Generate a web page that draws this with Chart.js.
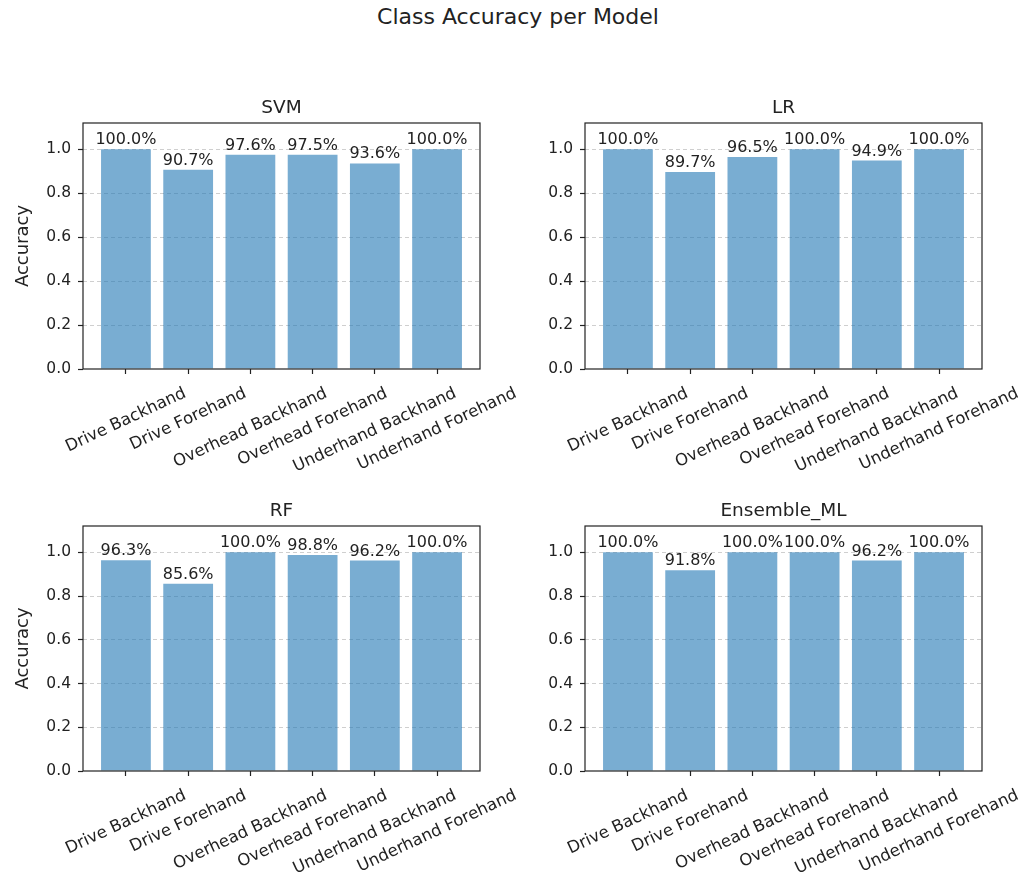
<!DOCTYPE html>
<html>
<head>
<meta charset="utf-8">
<title>Class Accuracy per Model</title>
<script src="https://cdn.jsdelivr.net/npm/chart.js@4/dist/chart.umd.min.js"></script>
<style>
  html, body { margin: 0; padding: 0; background: #fff; }
  #fig { position: relative; width: 1020px; height: 875px; overflow: hidden; background: #fff; }
  #fig canvas { position: absolute; }
  #suptitle { position: absolute; left: 0; width: 1036px; top: 4px; line-height: 26px;
              text-align: center; font-family: "DejaVu Sans"; font-size: 22px; color: #222; }
</style>
</head>
<body>
<div id="fig">
  <div id="suptitle">Class Accuracy per Model</div>
  <canvas id="p0" width="530" height="396" style="left:0px;top:83px"></canvas>
  <canvas id="p1" width="530" height="396" style="left:502px;top:83px"></canvas>
  <canvas id="p2" width="530" height="395" style="left:0px;top:486px"></canvas>
  <canvas id="p3" width="530" height="395" style="left:502px;top:486px"></canvas>
</div>
<script>
// Stroke classes on the x axis
const categories = ['Drive Backhand', 'Drive Forehand', 'Overhead Backhand',
                    'Overhead Forehand', 'Underhand Backhand', 'Underhand Forehand'];

// Per-class accuracy for each model
const svmAccuracy      = [1.000, 0.907, 0.976, 0.975, 0.936, 1.000];
const lrAccuracy       = [1.000, 0.897, 0.965, 1.000, 0.949, 1.000];
const rfAccuracy       = [0.963, 0.856, 1.000, 0.988, 0.962, 1.000];
const ensembleAccuracy = [1.000, 0.918, 1.000, 1.000, 0.962, 1.000];

const modelNames = ['SVM', 'LR', 'RF', 'Ensemble_ML'];
const yTicks = [0.0, 0.2, 0.4, 0.6, 0.8, 1.0];

const FONT = 'DejaVu Sans';
const INK = '#222';

// Draws the value labels, the full axes frame, the panel title and the rotated class names
const panelDecor = {
  id: 'panelDecor',
  afterDatasetsDraw(chart, args, opts) {
    const { ctx, chartArea: a } = chart;
    const meta = chart.getDatasetMeta(0);
    const ds = chart.data.datasets[0];
    ctx.save();
    ctx.fillStyle = INK;
    ctx.textAlign = 'center';
    ctx.textBaseline = 'alphabetic';

    ctx.font = '16px "' + FONT + '"';
    meta.data.forEach((bar, i) => {
      const v = ds.data[i].y;
      ctx.fillText((v * 100).toFixed(1) + '%', bar.x, bar.y - 5);
    });

    ctx.strokeStyle = INK;
    ctx.lineWidth = 1.2;
    ctx.strokeRect(a.left, a.top, a.right - a.left, a.bottom - a.top);

    ctx.font = '18.5px "' + FONT + '"';
    ctx.fillText(opts.title, (a.left + a.right) / 2, a.top - 10);

    const xs = chart.scales.x;
    const rot = 25 * Math.PI / 180;
    const fs = 16.5;
    ctx.font = fs + 'px "' + FONT + '"';
    ctx.textBaseline = 'middle';
    categories.forEach((lab, i) => {
      const x = xs.getPixelForValue(i);
      const L = ctx.measureText(lab).width;
      const h = fs * 1.15;
      const H = L * Math.sin(rot) + h * Math.cos(rot);
      ctx.save();
      ctx.translate(x, a.bottom + 15 + H / 2);
      ctx.rotate(-rot);
      ctx.fillText(lab, 0, 0);
      ctx.restore();
    });
    ctx.restore();
  }
};

function makePanel(canvasId, title, values, showYLabel) {
  const canvas = document.getElementById(canvasId);
  const areaHeight = canvas.height === 396 ? 246 : 245;
  new Chart(canvas, {
    type: 'bar',
    data: {
      datasets: [{
        data: values.map((v, i) => ({ x: i, y: v })),
        backgroundColor: 'rgba(31,119,180,0.6)',
        borderWidth: 0,
        barPercentage: 0.8,
        categoryPercentage: 1.0
      }]
    },
    options: {
      responsive: false,
      animation: false,
      layout: { padding: { top: 40, left: 0, right: 50, bottom: 0 } },
      plugins: {
        legend: { display: false },
        tooltip: { enabled: false },
        panelDecor: { title: title }
      },
      scales: {
        x: {
          type: 'linear',
          min: -0.69,
          max: 5.69,
          offset: false,
          afterBuildTicks: s => { s.ticks = categories.map((_, i) => ({ value: i })); },
          afterFit: s => { s.height = canvas.height - 40 - areaHeight; },
          ticks: { display: false },
          grid: { display: true, offset: false, drawOnChartArea: false, drawTicks: true,
                  tickLength: 5, tickColor: INK, tickWidth: 1.2 },
          border: { display: false }
        },
        y: {
          min: 0,
          max: 1.12,
          afterBuildTicks: s => { s.ticks = yTicks.map(v => ({ value: v })); },
          afterFit: s => { s.width = 83; },
          ticks: {
            font: { family: FONT, size: 15.5 },
            color: INK,
            padding: 7,
            callback: v => Number(v).toFixed(1)
          },
          grid: {
            color: c => (c.tick && c.tick.value === 0) ? 'rgba(0,0,0,0)' : '#cfcfcf',
            lineWidth: 1,
            drawTicks: true,
            tickLength: 5,
            tickColor: INK,
            tickWidth: 1.2
          },
          border: { display: false, dash: [4, 3] },
          title: {
            display: showYLabel,
            text: 'Accuracy',
            color: INK,
            font: { family: FONT, size: 18 },
            padding: { top: 13, bottom: 0 }
          }
        }
      }
    },
    plugins: [panelDecor]
  });
}

makePanel('p0', modelNames[0], svmAccuracy, true);
makePanel('p1', modelNames[1], lrAccuracy, false);
makePanel('p2', modelNames[2], rfAccuracy, true);
makePanel('p3', modelNames[3], ensembleAccuracy, false);
</script>
</body>
</html>
